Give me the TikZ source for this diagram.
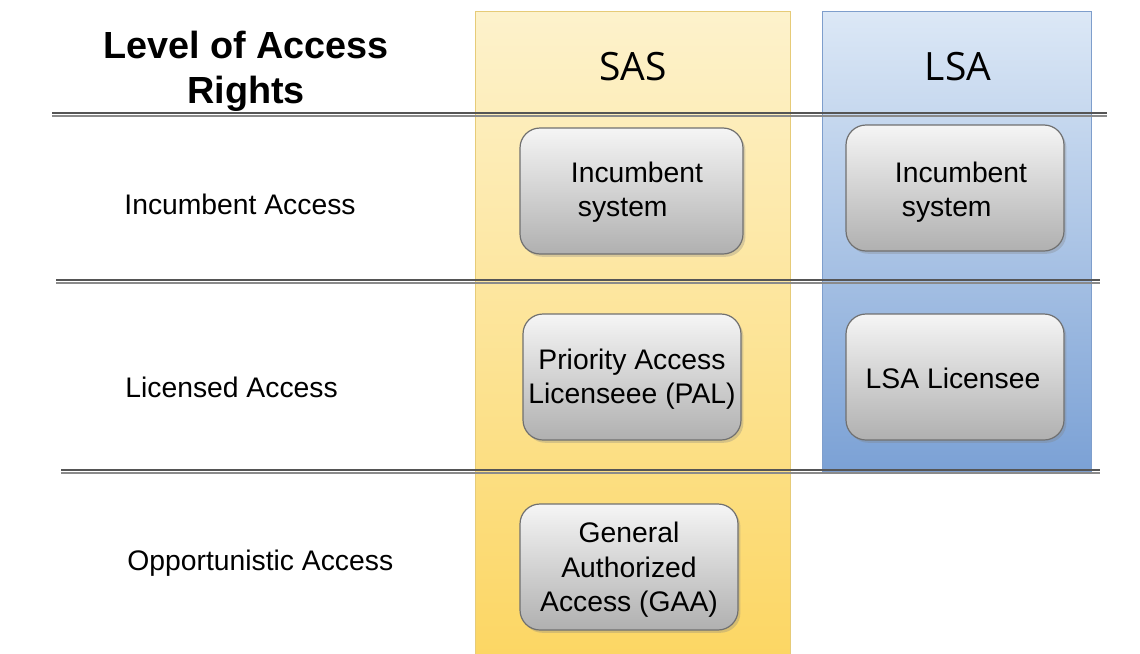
\documentclass[tikz,border=0pt]{standalone}
\usepackage{fontspec}
\setmainfont{Liberation Sans}
\newfontfamily\headfont{Open Sans}
\usetikzlibrary{shadows}
\definecolor{sasTop}{HTML}{FDF2CC}
\definecolor{sasBot}{HTML}{FCD663}
\definecolor{sasEdge}{HTML}{E6CB78}
\definecolor{lsaTop}{HTML}{DCE8F6}
\definecolor{lsaBot}{HTML}{7BA1D5}
\definecolor{lsaEdge}{HTML}{7E9ECC}
\definecolor{boxTop}{HTML}{F5F5F5}
\definecolor{boxBot}{HTML}{B0B0B0}
\definecolor{boxEdge}{HTML}{707070}
\definecolor{sepDark}{HTML}{555555}
\definecolor{sepLight}{HTML}{8A8A8A}
\newcommand{\bodyfont}{\fontsize{14.15}{17.2}\selectfont}
\begin{document}
\begin{tikzpicture}[x=0.5pt,y=-0.5pt,
  colbox/.style={line width=0.5pt},
  entry/.style={draw=boxEdge, line width=0.6pt, rounded corners=10pt,
    top color=boxTop, bottom color=boxBot, inner sep=0pt,
    minimum width=109pt, minimum height=63pt,
    drop shadow={shadow xshift=1.2pt, shadow yshift=-1.4pt, opacity=0.3}},
  entrytext/.style={font=\bodyfont, inner sep=0pt},
  rowlabel/.style={anchor=west, font=\bodyfont, inner sep=0pt},
  colhead/.style={font=\headfont\fontsize{19.5}{22}\selectfont},
  sepA/.style={draw=sepDark, line width=0.6pt},
  sepB/.style={draw=sepLight, line width=0.6pt}]
\useasboundingbox (0,0) rectangle (1140,653);
\fill[white] (0,0) rectangle (1140,653);
% columns
\shade[top color=sasTop, bottom color=sasBot, middle color=sasTop!50!sasBot] (475,11) rectangle (790,660);
\draw[sasEdge, colbox] (475,660) -- (475,11) -- (790,11) -- (790,660);
\shade[top color=lsaTop, bottom color=lsaBot] (822,11) rectangle (1091,471);
\draw[lsaEdge, colbox] (822,11) rectangle (1091,471);
% headers
\node[font=\fontsize{18.9}{22.5}\selectfont\bfseries, align=center] (title) at (246,71) {Level of Access\\Rights};
\node[colhead] (sas) at (633,67) {SAS};
\node[colhead] (lsa) at (958,67) {LSA};
% separators
\coordinate (s1a) at (52,113); \coordinate (s1b) at (1107,113);
\coordinate (s1c) at (52,116); \coordinate (s1d) at (1107,116);
\coordinate (s2a) at (56,280); \coordinate (s2b) at (1100,280);
\coordinate (s2c) at (56,283); \coordinate (s2d) at (1100,283);
\coordinate (s3a) at (61,470); \coordinate (s3b) at (1100,470);
\coordinate (s3c) at (61,473); \coordinate (s3d) at (1100,473);
\draw[sepA] (s1a) -- (s1b); \draw[sepB] (s1c) -- (s1d);
\draw[sepA] (s2a) -- (s2b); \draw[sepB] (s2c) -- (s2d);
\draw[sepA] (s3a) -- (s3b); \draw[sepB] (s3c) -- (s3d);
% row labels
\node[rowlabel] (inc) at (124,204) {Incumbent Access};
\node[rowlabel] (lic) at (125,387) {Licensed Access};
\node[rowlabel] (opp) at (127,563) {Opportunistic Access};
% boxes
\node[entry, minimum width=111.5pt] (sasinc) at (631.5,191) {};
\node[entrytext, align=left] (sasinct) at (637,192) {Incumbent\\\hspace*{3.5pt}system};
\node[entry] (lsainc) at (955,188) {};
\node[entrytext, align=left] (lsainct) at (961,192) {Incumbent\\\hspace*{3.5pt}system};
\node[entry] (pal) at (632,377) {};
\node[entrytext, align=center] (palt) at (632,379) {Priority Access\\Licenseee (PAL)};
\node[entry] (lsalic) at (955,377) {};
\node[entrytext] (lsalict) at (953,378) {LSA Licensee};
\node[entry] (gaa) at (629,567) {};
\node[entrytext, align=center] (gaat) at (629,570) {General\\Authorized\\Access (GAA)};
\end{tikzpicture}
\end{document}
